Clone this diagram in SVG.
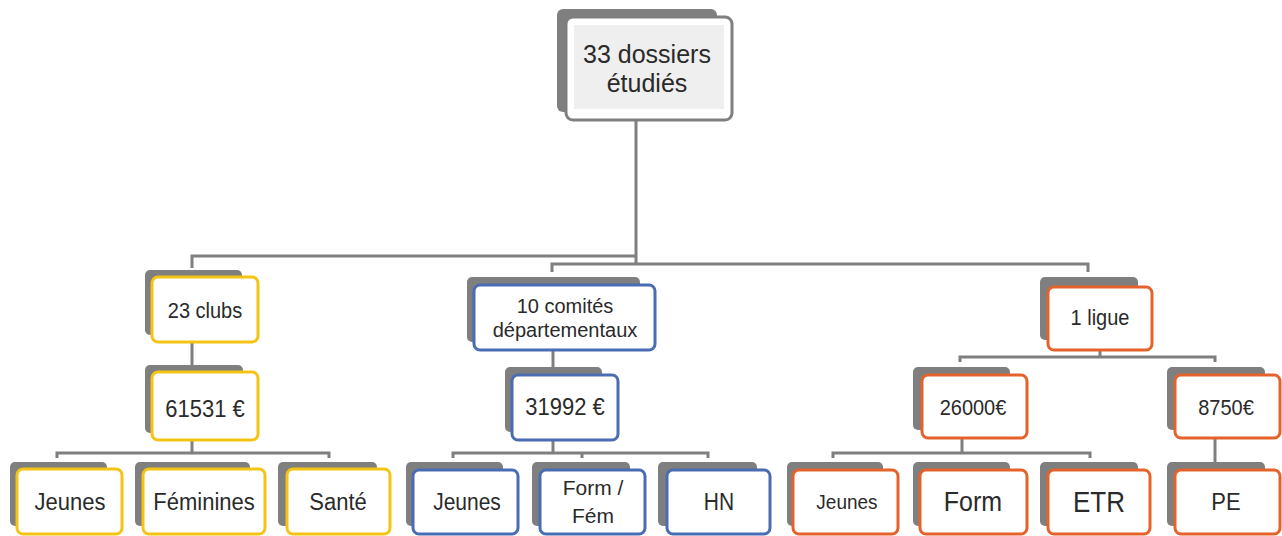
<svg xmlns="http://www.w3.org/2000/svg" width="1282" height="536" viewBox="0 0 1282 536">
<style>
.sh{fill:#7f7f7f}
.m{fill:#fff;stroke-width:3}
.y{stroke:#f4c414}
.b{stroke:#4a6cb3}
.o{stroke:#e5622b}
.g{stroke:#7f7f7f}
.c{fill:none;stroke:#7f7f7f;stroke-width:3}
text{font-family:"Liberation Sans",Arial,sans-serif;fill:#2a2a2a;text-anchor:middle;dominant-baseline:central}
</style>
<rect width="1282" height="536" fill="#fff"/>
<g id="connectors" class="c">
<path d="M636,120 V264"/>
<path d="M192,268 V256 H636"/>
<path d="M552,272 V264 H1088 V272"/>
<path d="M192,342 V366"/>
<path d="M192,440 V453"/>
<path d="M57,458 V453 H329 V458"/>
<path d="M553,350 V368"/>
<path d="M553,440 V453"/>
<path d="M453,458 V453 H708 V458"/>
<path d="M582,453 V458"/>
<path d="M1100,350 V357"/>
<path d="M960,362 V357 H1215 V362"/>
<path d="M962,438 V453"/>
<path d="M833,458 V453 H1090 V458"/>
<path d="M1215,438 V463"/>
</g>
<g id="n-top">
<rect class="sh" x="557" y="9" width="160" height="103" rx="6"/>
<rect class="m g" x="566" y="17" width="166" height="103" rx="7"/>
<rect x="574" y="25" width="150" height="84" fill="#efefef"/>
<text x="647" y="54" font-size="25">33 dossiers</text>
<text x="647" y="83" font-size="25">étudiés</text>
</g>
<g id="n-clubs">
<rect class="sh" x="145" y="270" width="97" height="65" rx="5"/>
<rect class="m y" x="152" y="277" width="106" height="65" rx="6"/>
<text transform="translate(205,310) scale(1,1.1)" font-size="20">23 clubs</text>
</g>
<g id="n-61531">
<rect class="sh" x="145" y="365" width="98" height="68" rx="5"/>
<rect class="m y" x="152" y="372" width="106" height="68" rx="6"/>
<text transform="translate(205,409) scale(1,1.1)" font-size="22">61531 €</text>
</g>
<g id="n-jeunes-l">
<rect class="sh" x="10" y="462" width="97" height="64" rx="5"/>
<rect class="m y" x="17" y="469" width="105" height="65" rx="6"/>
<text transform="translate(70,502) scale(1,1.1)" font-size="22">Jeunes</text>
</g>
<g id="n-feminines">
<rect class="sh" x="135" y="462" width="115" height="64" rx="5"/>
<rect class="m y" x="143" y="469" width="122" height="65" rx="6"/>
<text transform="translate(204,502) scale(1,1.1)" font-size="22">Féminines</text>
</g>
<g id="n-sante">
<rect class="sh" x="278" y="462" width="99" height="64" rx="5"/>
<rect class="m y" x="287" y="469" width="103" height="65" rx="6"/>
<text transform="translate(338,502) scale(1,1.1)" font-size="22">Santé</text>
</g>
<g id="n-comites">
<rect class="sh" x="467" y="277" width="173" height="65" rx="5"/>
<rect class="m b" x="474" y="285" width="181" height="65" rx="6"/>
<text x="565" y="306" font-size="20">10 comités</text>
<text x="565" y="330" font-size="20">départementaux</text>
</g>
<g id="n-31992">
<rect class="sh" x="505" y="367" width="97" height="65" rx="5"/>
<rect class="m b" x="512" y="375" width="106" height="65" rx="6"/>
<text transform="translate(565,407) scale(1,1.1)" font-size="22">31992 €</text>
</g>
<g id="n-jeunes-m">
<rect class="sh" x="406" y="462" width="97" height="64" rx="5"/>
<rect class="m b" x="413" y="470" width="105" height="64" rx="6"/>
<text transform="translate(467,502) scale(1,1.1)" font-size="21">Jeunes</text>
</g>
<g id="n-formfem">
<rect class="sh" x="532" y="462" width="98" height="64" rx="5"/>
<rect class="m b" x="540" y="470" width="105" height="64" rx="6"/>
<text x="593" y="487" font-size="21">Form /</text>
<text x="593" y="515" font-size="21">Fém</text>
</g>
<g id="n-hn">
<rect class="sh" x="658" y="462" width="99" height="64" rx="5"/>
<rect class="m b" x="667" y="470" width="103" height="64" rx="6"/>
<text transform="translate(719,502) scale(1,1.1)" font-size="21">HN</text>
</g>
<g id="n-ligue">
<rect class="sh" x="1040" y="277" width="98" height="63" rx="5"/>
<rect class="m o" x="1048" y="287" width="104" height="63" rx="6"/>
<text transform="translate(1100,317) scale(1,1.1)" font-size="20">1 ligue</text>
</g>
<g id="n-26000">
<rect class="sh" x="913" y="367" width="97" height="63" rx="5"/>
<rect class="m o" x="922" y="375" width="105" height="63" rx="6"/>
<text transform="translate(973,407) scale(1,1.1)" font-size="20">26000€</text>
</g>
<g id="n-8750">
<rect class="sh" x="1167" y="367" width="98" height="63" rx="5"/>
<rect class="m o" x="1175" y="375" width="105" height="63" rx="6"/>
<text transform="translate(1226,407) scale(1,1.1)" font-size="20">8750€</text>
</g>
<g id="n-jeunes-r">
<rect class="sh" x="787" y="462" width="96" height="64" rx="5"/>
<rect class="m o" x="793" y="470" width="105" height="64" rx="6"/>
<text transform="translate(847,502) scale(1,1.1)" font-size="19">Jeunes</text>
</g>
<g id="n-form">
<rect class="sh" x="913" y="462" width="97" height="64" rx="5"/>
<rect class="m o" x="920" y="470" width="107" height="64" rx="6"/>
<text transform="translate(973,502) scale(1,1.1)" font-size="25">Form</text>
</g>
<g id="n-etr">
<rect class="sh" x="1040" y="462" width="98" height="64" rx="5"/>
<rect class="m o" x="1048" y="470" width="102" height="64" rx="6"/>
<text transform="translate(1099,502) scale(1,1.1)" font-size="26">ETR</text>
</g>
<g id="n-pe">
<rect class="sh" x="1167" y="462" width="98" height="64" rx="5"/>
<rect class="m o" x="1175" y="470" width="105" height="64" rx="6"/>
<text transform="translate(1226,502) scale(1,1.1)" font-size="22">PE</text>
</g>
</svg>
